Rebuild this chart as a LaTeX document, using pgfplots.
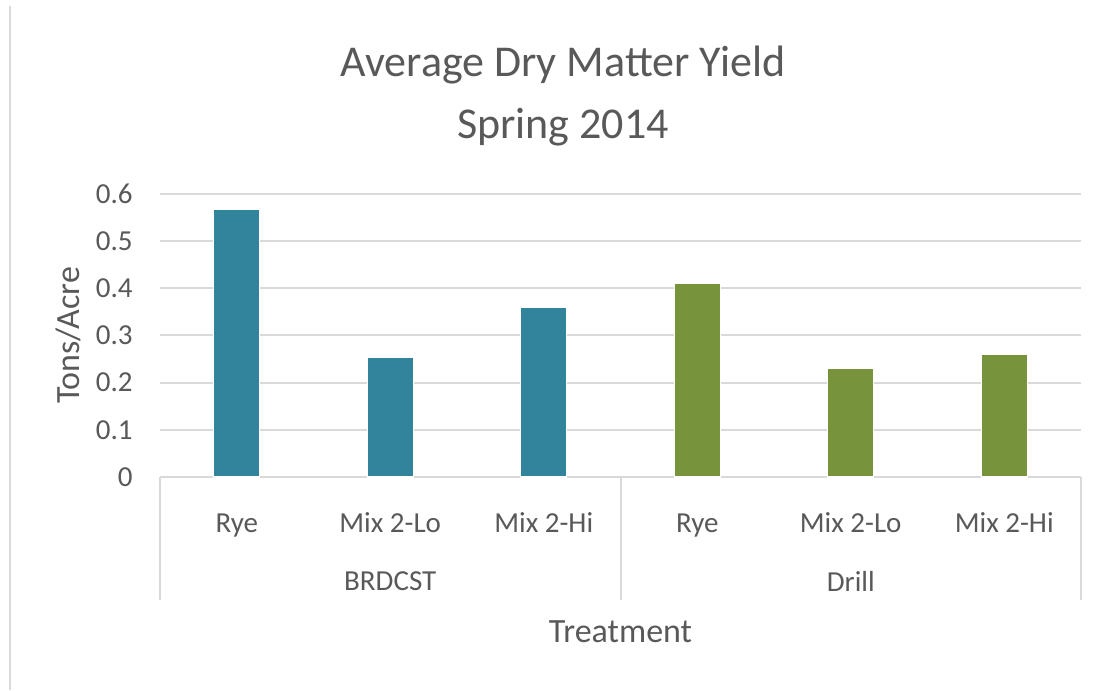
\documentclass[border=0pt]{standalone}
\usepackage{pgfplots}
\pgfplotsset{compat=1.18}
\usepackage{fontspec}
\setmainfont{Carlito}
\definecolor{txt}{HTML}{595959}
\definecolor{gridc}{HTML}{D9D9D9}
\definecolor{barblue}{HTML}{31849B}
\definecolor{bargreen}{HTML}{77933C}
\begin{document}
\begin{tikzpicture}[x=1pt,y=1pt]
\path[use as bounding box] (0,0) rectangle (1107,690);
\draw[gridc, line width=2pt] (10,684) -- (10,0);
\node[txt, font=\fontsize{44}{52}\selectfont] at (563,625) {Average Dry Matter Yield};
\node[txt, font=\fontsize{44}{52}\selectfont] at (563,563) {Spring 2014};
\begin{axis}[
  at={(160pt,213pt)}, anchor=south west,
  scale only axis, width=921pt, height=283pt,
  clip=false,
  xmin=-0.5, xmax=5.5, ymin=0, ymax=0.6,
  ytick={0,0.1,0.2,0.3,0.4,0.5,0.6},
  yticklabels={0,0.1,0.2,0.3,0.4,0.5,0.6},
  xtick={0,1,2,3,4,5},
  xticklabels={Rye,Mix 2-Lo,Mix 2-Hi,Rye,Mix 2-Lo,Mix 2-Hi},
  axis y line=left, axis x line=bottom,
  y axis line style={draw=none},
  x axis line style={draw=gridc, line width=2pt, -},
  major tick style={draw=none},
  ymajorgrids, grid style={draw=gridc, line width=2pt},
  /pgf/number format/assume math mode=true,
  tick label style={txt, font=\fontsize{29}{34}\selectfont},
  xticklabel style={anchor=center, text height=20pt, text depth=6pt, yshift=-44pt},
  yticklabel style={anchor=east, inner sep=0pt, xshift=-25pt},
  every axis y label/.style={at={(axis description cs:-0.0999,0.5)}, rotate=90, anchor=center, txt, font=\fontsize{34}{40}\selectfont},
  every axis x label/.style={at={(axis description cs:0.5,0)}, anchor=center, yshift=-155pt, txt, font=\fontsize{34}{40}\selectfont},
  ylabel={Tons/Acre},
  xlabel={Treatment},
  ybar, bar width=0.3, bar shift=0pt,
]
\addplot[fill=barblue, draw=white, line width=1.2pt] coordinates {(0,0.568) (1,0.253) (2,0.360)};
\addplot[fill=bargreen, draw=white, line width=1.2pt] coordinates {(3,0.410) (4,0.231) (5,0.259)};
\draw[gridc, line width=2pt] (axis cs:-0.5,0) -- ([yshift=-123pt]axis cs:-0.5,0);
\draw[gridc, line width=2pt] (axis cs:2.5,0) -- ([yshift=-123pt]axis cs:2.5,0);
\draw[gridc, line width=2pt] (axis cs:5.5,0) -- ([yshift=-123pt]axis cs:5.5,0);
\node[txt, font=\fontsize{29}{34}\selectfont, anchor=center] at ([yshift=-104pt]axis cs:1,0) {BRDCST};
\node[txt, font=\fontsize{29}{34}\selectfont, anchor=center] at ([yshift=-104pt]axis cs:4,0) {Drill};
\end{axis}
\end{tikzpicture}
\end{document}
